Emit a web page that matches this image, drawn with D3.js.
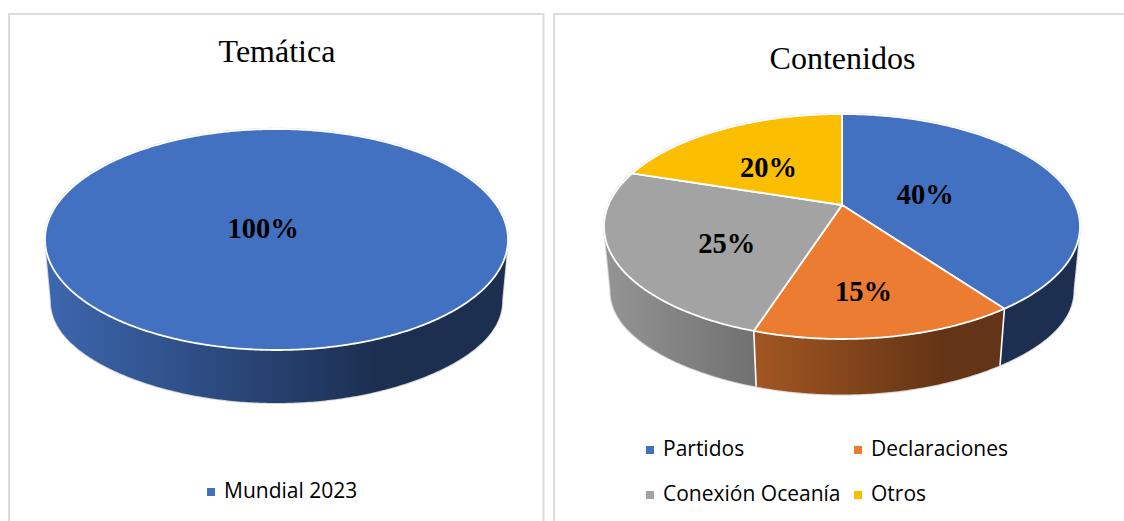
<!DOCTYPE html>
<html><head><meta charset="utf-8">
<script src="https://cdn.jsdelivr.net/npm/d3@7"></script>
<style>html,body{margin:0;padding:0;background:#fff}svg{display:block}</style>
</head><body><svg id="c" width="1124" height="521"></svg>
<script>
// data
const themeCategories = ["Mundial 2023"];
const themeValues = [100];
const contentCategories = ["Partidos", "Declaraciones", "Conexión Oceanía", "Otros"];
const contentValues = [40, 15, 25, 20];
const seriesColors = ["#4371C1", "#EB7C31", "#A3A3A3", "#FBBE00"];

const SERIF = "'Liberation Serif','Times New Roman',serif";
const SANS = "'Open Sans','Noto Sans',sans-serif";
const svg = d3.select("#c");
const defs = svg.append("defs");
let gid = 0;

// panels
svg.append("path").attr("d", "M9,521V14H543.5V521").attr("fill", "none").attr("stroke", "#dcdcdc").attr("stroke-width", 2);
svg.append("path").attr("d", "M554,521V14H1124").attr("fill", "none").attr("stroke", "#dcdcdc").attr("stroke-width", 2);

function drawPie(o) {
  const g = svg.append("g");
  const color = d3.scaleOrdinal(o.categories, seriesColors);
  // projective map of the unit disc onto the tilted top face
  const c = (2 * o.centerY - o.top - o.bottom) / (o.bottom - o.top);
  const a = o.bottom * (1 + c) - o.centerY;
  const R = o.halfWidth * Math.sqrt(1 - c * c);
  const px = (u, v) => o.cx + R * u / (1 + c * v);
  const py = (u, v) => (a * v + o.centerY) / (1 + c * v);
  const top = (t, r = 1) => {
    const u = r * Math.sin(t), v = -r * Math.cos(t);
    return [px(u, v), py(u, v)];
  };
  // bottom rim: slightly narrower, and the wall reads a little taller at the sides
  const low = t => {
    const [x, y] = top(t);
    const v = -Math.cos(t);
    const s = Math.max(0, Math.min(1, (1 - v) / 0.81));
    const side = s * s * (3 - 2 * s);
    return [o.cx + o.shrink * (x - o.cx), y + o.depth + o.sideDrop * side];
  };
  const line = d3.line();
  const arcs = d3.pie().sort(null).value(d => d.value)(
    o.categories.map((name, i) => ({ name, value: o.values[i] })));
  const sample = (a0, a1) => {
    const n = Math.max(2, Math.ceil((a1 - a0) / 0.01));
    return d3.range(n + 1).map(i => a0 + (a1 - a0) * i / n);
  };
  const visA = Math.acos(c), visB = 2 * Math.PI - visA;

  // wall shading runs left to right over the whole disc
  const gradFor = base => {
    const id = "w" + (gid++);
    const gr = defs.append("linearGradient").attr("id", id).attr("gradientUnits", "userSpaceOnUse")
      .attr("x1", o.cx - o.halfWidth * o.shrink).attr("x2", o.cx + o.halfWidth * o.shrink).attr("y1", 0).attr("y2", 0);
    const shade = d3.scaleLinear().domain([0, 0.72, 1]).range([0.9, 0.42, 0.42]);
    [0, 0.72, 1].forEach(f => {
      const col = d3.rgb(base);
      const s = shade(f);
      gr.append("stop").attr("offset", f).attr("stop-color", d3.rgb(col.r * s, col.g * s, col.b * s).formatHex());
    });
    return `url(#${id})`;
  };

  // soft outer outline of the top face
  g.append("path").attr("d", line(sample(0, 2 * Math.PI).map(t => top(t))) + "Z")
    .attr("fill", "none").attr("stroke", "#d9d9d9").attr("stroke-width", 2.4);

  // silhouette outline of the wall
  const sil = [top(visA), ...sample(visA, visB).map(low), top(visB)];
  g.append("path").attr("d", line(sil)).attr("fill", "none").attr("stroke", "#d4d4d4").attr("stroke-width", 2);

  // walls
  arcs.forEach(d => {
    const a0 = Math.max(d.startAngle, visA), a1 = Math.min(d.endAngle, visB);
    if (a1 <= a0) return;
    const ts = sample(a0, a1);
    const pts = ts.map(t => top(t)).concat(ts.slice().reverse().map(low));
    g.append("path").attr("d", line(pts) + "Z").attr("fill", gradFor(color(d.data.name)));
  });
  // wall separators
  arcs.forEach(d => {
    if (arcs.length > 1 && d.endAngle > visA && d.endAngle < visB) {
      g.append("path").attr("d", line([top(d.endAngle), low(d.endAngle)]))
        .attr("stroke", "#fff").attr("stroke-width", 1.6).attr("fill", "none");
    }
  });
  // top faces
  arcs.forEach(d => {
    const rim = sample(d.startAngle, d.endAngle).map(t => top(t));
    const whole = arcs.length === 1;
    const pts = whole ? rim : [top(0, 0), ...rim];
    g.append("path").attr("d", line(pts) + "Z").attr("fill", color(d.data.name))
      .attr("stroke", "#fff").attr("stroke-width", 1.8).attr("stroke-linejoin", "round");
  });
  // value labels
  const total = d3.sum(o.values);
  arcs.forEach((d, i) => {
    const [x, y] = top((d.startAngle + d.endAngle) / 2, o.labelRadius);
    g.append("text").attr("x", x + o.labelNudge[i][0]).attr("y", y + o.labelNudge[i][1])
      .attr("dy", "0.35em").attr("text-anchor", "middle")
      .attr("font-family", SERIF).attr("font-weight", "bold").attr("font-size", 28.5).attr("fill", "#000")
      .text(d3.format(".0%")(d.value / total));
  });
  // title
  g.append("text").attr("x", o.cx + 0.5).attr("y", o.titleY).attr("text-anchor", "middle")
    .attr("font-family", SERIF).attr("font-size", 32).attr("fill", "#000").text(o.title);
  // legend
  o.categories.forEach((name, i) => {
    const [lx, ly] = o.legendAt[i];
    g.append("rect").attr("x", lx).attr("y", ly - 10).attr("width", 8).attr("height", 8).attr("fill", color(name));
    g.append("text").attr("x", lx + 17).attr("y", ly).attr("font-family", SANS).attr("font-size", 21)
      .attr("fill", "#000").text(name);
  });
}

drawPie({
  title: "Temática", titleY: 62, categories: themeCategories, values: themeValues,
  cx: 276.5, top: 129, bottom: 350, centerY: 218.3, halfWidth: 231.5, depth: 53, sideDrop: 8, shrink: 0.975,
  labelRadius: 0, labelNudge: [[-13.5, 9.5]],
  legendAt: [[207, 498]]
});
drawPie({
  title: "Contenidos", titleY: 69, categories: contentCategories, values: contentValues,
  cx: 842, top: 114, bottom: 339, centerY: 205, halfWidth: 238, depth: 55.5, sideDrop: 8, shrink: 0.973,
  labelRadius: 0.55, labelNudge: [[-35, 7], [-1, 20], [5, 10], [-4, 6]],
  legendAt: [[646, 456], [854, 456], [646, 501], [854, 501]]
});
</script></body></html>
